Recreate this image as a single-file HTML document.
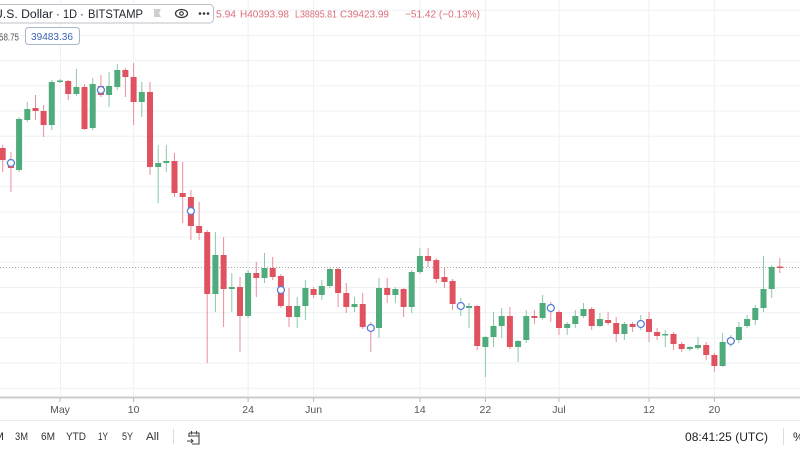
<!DOCTYPE html>
<html><head><meta charset="utf-8"><style>
html,body{margin:0;padding:0;background:#fff;}
svg{display:block;}
text{font-family:"Liberation Sans",sans-serif;}
.r{fill:#e0525f}.g{fill:#4fab7c}.rw{fill:#eb8f99}.gw{fill:#8ccaa9}
.gl{stroke:#eef0f4;stroke-width:1}
</style></head><body>
<svg width="800" height="450" viewBox="0 0 800 450" xmlns="http://www.w3.org/2000/svg">
<rect width="800" height="450" fill="#fff"/>
<g class="gl">
<line x1="0" y1="10.3" x2="800" y2="10.3"/><line x1="0" y1="35.5" x2="800" y2="35.5"/><line x1="0" y1="60.7" x2="800" y2="60.7"/><line x1="0" y1="85.9" x2="800" y2="85.9"/><line x1="0" y1="111.1" x2="800" y2="111.1"/><line x1="0" y1="136.3" x2="800" y2="136.3"/><line x1="0" y1="161.5" x2="800" y2="161.5"/><line x1="0" y1="186.7" x2="800" y2="186.7"/><line x1="0" y1="211.9" x2="800" y2="211.9"/><line x1="0" y1="237.1" x2="800" y2="237.1"/><line x1="0" y1="262.3" x2="800" y2="262.3"/><line x1="0" y1="287.5" x2="800" y2="287.5"/><line x1="0" y1="312.7" x2="800" y2="312.7"/><line x1="0" y1="337.9" x2="800" y2="337.9"/><line x1="0" y1="363.1" x2="800" y2="363.1"/><line x1="0" y1="388.3" x2="800" y2="388.3"/>
<line x1="60.5" y1="0" x2="60.5" y2="397"/><line x1="133.6" y1="0" x2="133.6" y2="397"/><line x1="248.1" y1="0" x2="248.1" y2="397"/><line x1="313.6" y1="0" x2="313.6" y2="397"/><line x1="419.9" y1="0" x2="419.9" y2="397"/><line x1="485.4" y1="0" x2="485.4" y2="397"/><line x1="559" y1="0" x2="559" y2="397"/><line x1="649" y1="0" x2="649" y2="397"/><line x1="714.4" y1="0" x2="714.4" y2="397"/>
</g>
<line x1="0" y1="267.5" x2="800" y2="267.5" stroke="#a3a8b0" stroke-width="1" stroke-dasharray="1,2"/>
<g>
<rect class="rw" x="2.2" y="145" width="1" height="27"/><rect class="r" x="-0.3" y="148" width="6" height="12"/>
<rect class="rw" x="10.4" y="152" width="1" height="40"/><rect class="r" x="7.9" y="161" width="6" height="7"/>
<rect class="gw" x="18.6" y="117" width="1" height="55"/><rect class="g" x="16.1" y="119" width="6" height="51"/>
<rect class="gw" x="26.8" y="102" width="1" height="20"/><rect class="g" x="24.3" y="109" width="6" height="11"/>
<rect class="rw" x="35" y="95" width="1" height="25"/><rect class="r" x="32.5" y="108" width="6" height="3"/>
<rect class="rw" x="43.1" y="105" width="1" height="32"/><rect class="r" x="40.6" y="111" width="6" height="14"/>
<rect class="gw" x="51.3" y="80" width="1" height="50"/><rect class="g" x="48.8" y="82" width="6" height="43"/>
<rect class="gw" x="59.5" y="79" width="1" height="4"/><rect class="g" x="57" y="80.5" width="6" height="1.5"/>
<rect class="rw" x="67.7" y="80" width="1" height="20"/><rect class="r" x="65.2" y="81" width="6" height="13"/>
<rect class="gw" x="75.9" y="69" width="1" height="27"/><rect class="g" x="73.4" y="87" width="6" height="7"/>
<rect class="rw" x="84" y="84" width="1" height="46"/><rect class="r" x="81.5" y="87" width="6" height="42"/>
<rect class="gw" x="92.2" y="78" width="1" height="52"/><rect class="g" x="89.7" y="84" width="6" height="44"/>
<rect class="rw" x="100.4" y="75" width="1" height="22"/><rect class="r" x="97.9" y="86" width="6" height="9"/>
<rect class="gw" x="108.6" y="72" width="1" height="35"/><rect class="g" x="106.1" y="86" width="6" height="9"/>
<rect class="gw" x="116.8" y="64" width="1" height="26"/><rect class="g" x="114.3" y="70" width="6" height="17"/>
<rect class="rw" x="124.9" y="68" width="1" height="29"/><rect class="r" x="122.4" y="70" width="6" height="7"/>
<rect class="rw" x="133.1" y="63" width="1" height="62"/><rect class="r" x="130.6" y="77" width="6" height="25"/>
<rect class="gw" x="141.3" y="82" width="1" height="35"/><rect class="g" x="138.8" y="92" width="6" height="10"/>
<rect class="rw" x="149.5" y="82" width="1" height="93"/><rect class="r" x="147" y="92" width="6" height="75"/>
<rect class="gw" x="157.7" y="145" width="1" height="58"/><rect class="g" x="155.2" y="163" width="6" height="4"/>
<rect class="gw" x="165.8" y="145" width="1" height="27"/><rect class="g" x="163.3" y="161" width="6" height="2"/>
<rect class="rw" x="174" y="153" width="1" height="44"/><rect class="r" x="171.5" y="161" width="6" height="32"/>
<rect class="rw" x="182.2" y="162" width="1" height="61"/><rect class="r" x="179.7" y="193" width="6" height="4"/>
<rect class="rw" x="190.4" y="190" width="1" height="50"/><rect class="r" x="187.9" y="197" width="6" height="29"/>
<rect class="rw" x="198.6" y="202" width="1" height="38"/><rect class="r" x="196.1" y="226" width="6" height="7"/>
<rect class="rw" x="206.7" y="230" width="1" height="133"/><rect class="r" x="204.2" y="232" width="6" height="62"/>
<rect class="gw" x="214.9" y="232" width="1" height="80"/><rect class="g" x="212.4" y="255" width="6" height="39"/>
<rect class="rw" x="223.1" y="237" width="1" height="90"/><rect class="r" x="220.6" y="255" width="6" height="34"/>
<rect class="gw" x="231.3" y="273" width="1" height="39"/><rect class="g" x="228.8" y="287" width="6" height="2"/>
<rect class="rw" x="239.5" y="277" width="1" height="75"/><rect class="r" x="237" y="287" width="6" height="29"/>
<rect class="gw" x="247.6" y="270" width="1" height="48"/><rect class="g" x="245.1" y="273" width="6" height="43"/>
<rect class="rw" x="255.8" y="262" width="1" height="35"/><rect class="r" x="253.3" y="273" width="6" height="5"/>
<rect class="gw" x="264" y="253" width="1" height="30"/><rect class="g" x="261.5" y="268" width="6" height="10"/>
<rect class="rw" x="272.2" y="257" width="1" height="23"/><rect class="r" x="269.7" y="268" width="6" height="9"/>
<rect class="rw" x="280.4" y="274" width="1" height="34"/><rect class="r" x="277.9" y="276" width="6" height="30"/>
<rect class="rw" x="288.5" y="288" width="1" height="39"/><rect class="r" x="286" y="306" width="6" height="11"/>
<rect class="gw" x="296.7" y="297" width="1" height="31"/><rect class="g" x="294.2" y="306" width="6" height="11"/>
<rect class="gw" x="304.9" y="280" width="1" height="40"/><rect class="g" x="302.4" y="288" width="6" height="18"/>
<rect class="rw" x="313.1" y="287" width="1" height="11"/><rect class="r" x="310.6" y="289" width="6" height="6"/>
<rect class="gw" x="321.3" y="280" width="1" height="20"/><rect class="g" x="318.8" y="286" width="6" height="9"/>
<rect class="gw" x="329.4" y="268" width="1" height="20"/><rect class="g" x="326.9" y="269" width="6" height="17"/>
<rect class="rw" x="337.6" y="268" width="1" height="39"/><rect class="r" x="335.1" y="269" width="6" height="24"/>
<rect class="rw" x="345.8" y="283" width="1" height="30"/><rect class="r" x="343.3" y="293" width="6" height="14"/>
<rect class="gw" x="354" y="297" width="1" height="15"/><rect class="g" x="351.5" y="304" width="6" height="3"/>
<rect class="rw" x="362.2" y="293" width="1" height="36"/><rect class="r" x="359.7" y="304" width="6" height="23"/>
<rect class="rw" x="370.3" y="322" width="1" height="30"/><rect class="r" x="367.8" y="326" width="6" height="4"/>
<rect class="gw" x="378.5" y="278" width="1" height="60"/><rect class="g" x="376" y="288" width="6" height="40"/>
<rect class="rw" x="386.7" y="278" width="1" height="25"/><rect class="r" x="384.2" y="288" width="6" height="7"/>
<rect class="gw" x="394.9" y="287" width="1" height="16"/><rect class="g" x="392.4" y="289" width="6" height="6"/>
<rect class="rw" x="403.1" y="288" width="1" height="29"/><rect class="r" x="400.6" y="289" width="6" height="18"/>
<rect class="gw" x="411.2" y="270" width="1" height="43"/><rect class="g" x="408.7" y="272" width="6" height="35"/>
<rect class="gw" x="419.4" y="248" width="1" height="26"/><rect class="g" x="416.9" y="256" width="6" height="16"/>
<rect class="rw" x="427.6" y="248" width="1" height="19"/><rect class="r" x="425.1" y="256" width="6" height="5"/>
<rect class="rw" x="435.8" y="258" width="1" height="25"/><rect class="r" x="433.3" y="260" width="6" height="19"/>
<rect class="rw" x="444" y="267" width="1" height="21"/><rect class="r" x="441.5" y="277" width="6" height="5"/>
<rect class="rw" x="452.1" y="279" width="1" height="31"/><rect class="r" x="449.6" y="281" width="6" height="23"/>
<rect class="gw" x="460.3" y="298" width="1" height="18"/><rect class="g" x="457.8" y="304" width="6" height="2"/>
<rect class="gw" x="468.5" y="303" width="1" height="25"/><rect class="g" x="466" y="306" width="6" height="2"/>
<rect class="rw" x="476.7" y="305" width="1" height="45"/><rect class="r" x="474.2" y="306" width="6" height="40"/>
<rect class="gw" x="484.9" y="336" width="1" height="41"/><rect class="g" x="482.4" y="337" width="6" height="10"/>
<rect class="gw" x="493" y="312" width="1" height="35"/><rect class="g" x="490.5" y="326" width="6" height="11"/>
<rect class="gw" x="501.2" y="308" width="1" height="30"/><rect class="g" x="498.7" y="316" width="6" height="10"/>
<rect class="rw" x="509.4" y="307" width="1" height="42"/><rect class="r" x="506.9" y="316" width="6" height="31"/>
<rect class="gw" x="517.6" y="340" width="1" height="22"/><rect class="g" x="515.1" y="341" width="6" height="6"/>
<rect class="gw" x="525.8" y="310" width="1" height="33"/><rect class="g" x="523.3" y="316" width="6" height="24"/>
<rect class="rw" x="533.9" y="310" width="1" height="14"/><rect class="r" x="531.4" y="316" width="6" height="2"/>
<rect class="gw" x="542.1" y="295" width="1" height="25"/><rect class="g" x="539.6" y="303" width="6" height="15"/>
<rect class="rw" x="550.3" y="302" width="1" height="20"/><rect class="r" x="547.8" y="306" width="6" height="4"/>
<rect class="rw" x="558.5" y="310" width="1" height="25"/><rect class="r" x="556" y="312" width="6" height="16"/>
<rect class="gw" x="566.7" y="322" width="1" height="13"/><rect class="g" x="564.2" y="324" width="6" height="4"/>
<rect class="gw" x="574.8" y="310" width="1" height="18"/><rect class="g" x="572.3" y="316" width="6" height="8"/>
<rect class="gw" x="583" y="303" width="1" height="15"/><rect class="g" x="580.5" y="309" width="6" height="7"/>
<rect class="rw" x="591.2" y="307" width="1" height="23"/><rect class="r" x="588.7" y="309" width="6" height="17"/>
<rect class="gw" x="599.4" y="313" width="1" height="14"/><rect class="g" x="596.9" y="319" width="6" height="7"/>
<rect class="rw" x="607.6" y="312" width="1" height="13"/><rect class="r" x="605.1" y="320" width="6" height="3"/>
<rect class="rw" x="615.7" y="317" width="1" height="25"/><rect class="r" x="613.2" y="323" width="6" height="11"/>
<rect class="gw" x="623.9" y="322" width="1" height="18"/><rect class="g" x="621.4" y="324" width="6" height="10"/>
<rect class="rw" x="632.1" y="322" width="1" height="10"/><rect class="r" x="629.6" y="324" width="6" height="3"/>
<rect class="gw" x="640.3" y="315" width="1" height="15"/><rect class="g" x="637.8" y="323" width="6" height="2"/>
<rect class="rw" x="648.5" y="312" width="1" height="30"/><rect class="r" x="646" y="319" width="6" height="13"/>
<rect class="rw" x="656.6" y="328" width="1" height="12"/><rect class="r" x="654.1" y="332" width="6" height="4"/>
<rect class="gw" x="664.8" y="330" width="1" height="17"/><rect class="g" x="662.3" y="334" width="6" height="1.5"/>
<rect class="rw" x="673" y="332" width="1" height="18"/><rect class="r" x="670.5" y="334" width="6" height="10"/>
<rect class="rw" x="681.2" y="342" width="1" height="10"/><rect class="r" x="678.7" y="344" width="6" height="5"/>
<rect class="gw" x="689.4" y="346" width="1" height="5"/><rect class="g" x="686.9" y="347" width="6" height="2"/>
<rect class="gw" x="697.5" y="337" width="1" height="13"/><rect class="g" x="695" y="345" width="6" height="3"/>
<rect class="rw" x="705.7" y="342" width="1" height="18"/><rect class="r" x="703.2" y="345" width="6" height="10"/>
<rect class="rw" x="713.9" y="353" width="1" height="19"/><rect class="r" x="711.4" y="355" width="6" height="11"/>
<rect class="gw" x="722.1" y="333" width="1" height="34"/><rect class="g" x="719.6" y="342" width="6" height="24"/>
<rect class="gw" x="730.3" y="335" width="1" height="12"/><rect class="g" x="727.8" y="339" width="6" height="4"/>
<rect class="gw" x="738.4" y="322" width="1" height="21"/><rect class="g" x="735.9" y="327" width="6" height="13"/>
<rect class="gw" x="746.6" y="315" width="1" height="13"/><rect class="g" x="744.1" y="319" width="6" height="7"/>
<rect class="gw" x="754.8" y="305" width="1" height="20"/><rect class="g" x="752.3" y="308" width="6" height="12"/>
<rect class="gw" x="763" y="256" width="1" height="56"/><rect class="g" x="760.5" y="289" width="6" height="19"/>
<rect class="gw" x="771.2" y="265" width="1" height="33"/><rect class="g" x="768.7" y="267" width="6" height="22"/>
<rect class="rw" x="779.3" y="258" width="1" height="15"/><rect class="r" x="776.8" y="266.5" width="6" height="1.5"/>
</g>
<g fill="#fff" stroke="#5a7fd6" stroke-width="1.3">
<circle cx="10.9" cy="163" r="3.5"/><circle cx="100.9" cy="90" r="3.5"/><circle cx="190.9" cy="211" r="3.5"/><circle cx="280.9" cy="290" r="3.5"/><circle cx="370.8" cy="328" r="3.5"/><circle cx="460.8" cy="306" r="3.5"/><circle cx="550.8" cy="308" r="3.5"/><circle cx="640.8" cy="324" r="3.5"/><circle cx="730.8" cy="341" r="3.5"/>
</g>
<!-- x axis -->
<rect x="0" y="396.5" width="800" height="2" fill="#c9cbcf"/>
<g stroke="#b5b7bb" stroke-width="1">
<line x1="60" y1="398" x2="60" y2="402"/><line x1="133.6" y1="398" x2="133.6" y2="402"/><line x1="248.1" y1="398" x2="248.1" y2="402"/><line x1="313.6" y1="398" x2="313.6" y2="402"/><line x1="419.9" y1="398" x2="419.9" y2="402"/><line x1="485.4" y1="398" x2="485.4" y2="402"/><line x1="559" y1="398" x2="559" y2="402"/><line x1="649" y1="398" x2="649" y2="402"/><line x1="714.4" y1="398" x2="714.4" y2="402"/>
</g>
<g font-size="10.5" fill="#555" text-anchor="middle">
<text x="60" y="413">May</text><text x="133.6" y="413">10</text><text x="248.1" y="413">24</text><text x="313.6" y="413">Jun</text><text x="419.9" y="413">14</text><text x="485.4" y="413">22</text><text x="559" y="413">Jul</text><text x="649" y="413">12</text><text x="714.4" y="413">20</text>
</g>
<line x1="0" y1="420.5" x2="800" y2="420.5" stroke="#ebebeb" stroke-width="1"/>
<!-- bottom toolbar -->
<g font-size="11" fill="#333">
<text x="-6" y="440" textLength="10" lengthAdjust="spacingAndGlyphs">M</text>
<text x="15" y="440" textLength="13" lengthAdjust="spacingAndGlyphs">3M</text>
<text x="41" y="440" textLength="14" lengthAdjust="spacingAndGlyphs">6M</text>
<text x="66" y="440" textLength="20" lengthAdjust="spacingAndGlyphs">YTD</text>
<text x="98" y="440" textLength="10" lengthAdjust="spacingAndGlyphs">1Y</text>
<text x="122" y="440" textLength="11" lengthAdjust="spacingAndGlyphs">5Y</text>
<text x="146" y="440" textLength="13" lengthAdjust="spacingAndGlyphs">All</text>
</g>
<line x1="173.5" y1="429" x2="173.5" y2="444" stroke="#dcdcdc"/>
<g fill="none" stroke="#444" stroke-width="1.1">
<path d="M189 433 H199 V444 H192"/><path d="M189 433 V437 M189 436 H199"/><path d="M191.5 431 V434.5 M196.5 431 V434.5"/><path d="M187 441 H193 M191 439 L193 441 L191 443"/>
</g>
<text x="685" y="441" font-size="12" fill="#222" textLength="83" lengthAdjust="spacingAndGlyphs">08:41:25 (UTC)</text>
<line x1="783.5" y1="428" x2="783.5" y2="445" stroke="#dcdcdc"/>
<text x="793" y="441" font-size="12" fill="#222">%</text>
<!-- header -->
<text x="216" y="17.5" font-size="10.5" fill="#dc6e7b" textLength="20" lengthAdjust="spacingAndGlyphs">5.94</text>
<text x="240" y="17.5" font-size="10.5" fill="#dc6e7b" textLength="49" lengthAdjust="spacingAndGlyphs">H40393.98</text>
<text x="295" y="17.5" font-size="10.5" fill="#dc6e7b" textLength="42" lengthAdjust="spacingAndGlyphs">L38895.81</text>
<text x="340" y="17.5" font-size="10.5" fill="#dc6e7b" textLength="49" lengthAdjust="spacingAndGlyphs">C39423.99</text>
<text x="405" y="17.5" font-size="10.5" fill="#dc6e7b" textLength="75" lengthAdjust="spacingAndGlyphs">−51.42 (−0.13%)</text>
<rect x="-6" y="4.5" width="219.5" height="18.5" rx="4" fill="#fff" stroke="#bcc0c9" stroke-width="1"/>
<g font-size="11.5" fill="#1e222d">
<text x="-6" y="18" textLength="59" lengthAdjust="spacingAndGlyphs">U.S. Dollar</text>
<text x="56" y="18">·</text>
<text x="63" y="18" textLength="14" lengthAdjust="spacingAndGlyphs">1D</text>
<text x="80" y="18">·</text>
<text x="88" y="18" textLength="55" lengthAdjust="spacingAndGlyphs">BITSTAMP</text>
</g>
<path d="M154 9 H161 L159 13 L161 17 H154 Z" fill="#cfcfd3"/>
<ellipse cx="181.5" cy="13.5" rx="6" ry="4" fill="none" stroke="#333" stroke-width="1.2"/>
<circle cx="181.5" cy="13.5" r="1.8" fill="none" stroke="#333" stroke-width="1.1"/>
<circle cx="200" cy="13.5" r="1.3" fill="#333"/><circle cx="204" cy="13.5" r="1.3" fill="#333"/><circle cx="208" cy="13.5" r="1.3" fill="#333"/>
<text x="-1" y="40.5" font-size="10" fill="#555" textLength="20" lengthAdjust="spacingAndGlyphs">58.75</text>
<rect x="25.5" y="27.5" width="54" height="17" rx="3" fill="#fff" stroke="#aab6cb" stroke-width="1"/>
<text x="31" y="40" font-size="10.5" fill="#3b62b6" textLength="42" lengthAdjust="spacingAndGlyphs">39483.36</text>
</svg>
</body></html>
